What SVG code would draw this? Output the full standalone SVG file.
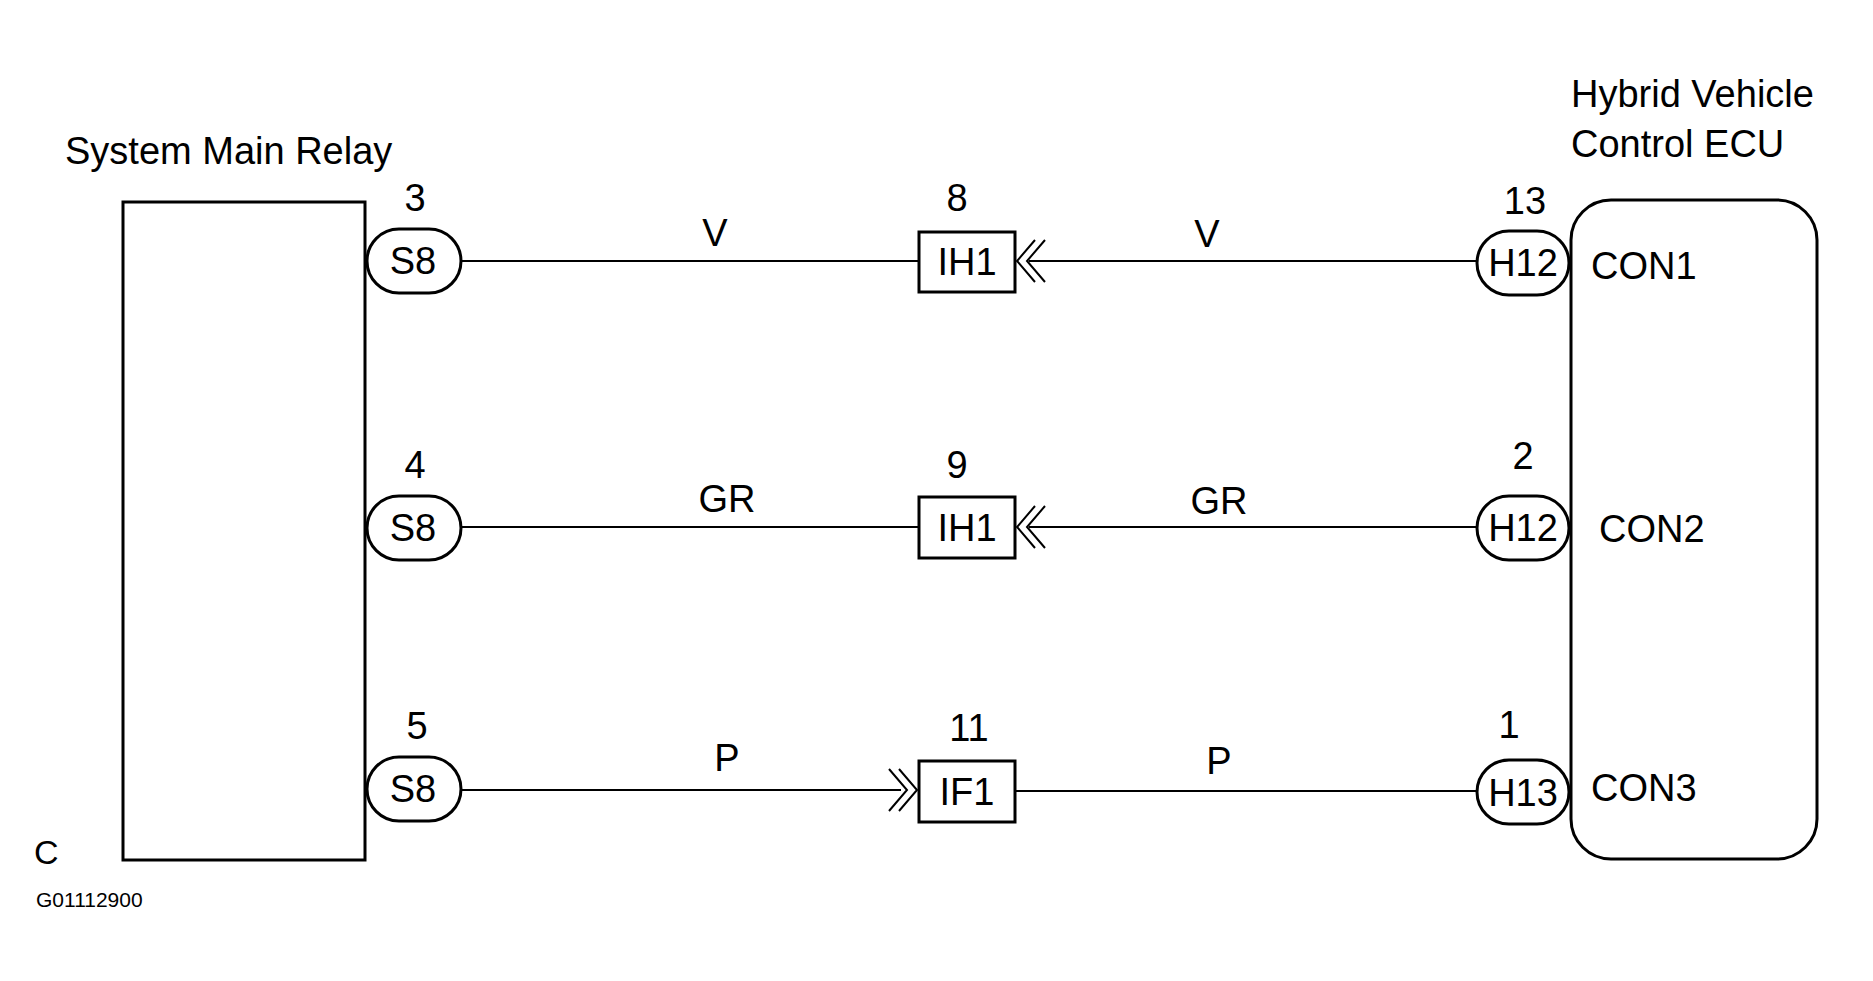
<svg xmlns="http://www.w3.org/2000/svg" width="1873" height="981" viewBox="0 0 1873 981">
<style>
text{font-family:"Liberation Sans",Arial,sans-serif;fill:#000;font-size:38px}
.c{text-anchor:middle}
.s{stroke:#000;fill:none;stroke-width:3}
.w{stroke:#000;fill:none;stroke-width:2}
</style>
<rect width="1873" height="981" fill="#fff"/>
<g transform="translate(-5,0)">
<g id="relay"><rect class="s" x="128" y="202" width="242" height="658"/>
<text x="70" y="164">System Main Relay</text></g>
<g id="ecu"><rect class="s" x="1576" y="200" width="246" height="659" rx="40"/>
<text x="1576" y="107">Hybrid Vehicle</text><text x="1576" y="157">Control ECU</text>
<text x="1596" y="279">CON1</text><text x="1604" y="542">CON2</text><text x="1596" y="801">CON3</text></g>
<g id="s8a"><rect class="s" x="372" y="229" width="94" height="64" rx="32"/><text class="c" x="418" y="274">S8</text><text class="c" x="420" y="211">3</text></g>
<g id="s8b"><rect class="s" x="372" y="496" width="94" height="64" rx="32"/><text class="c" x="418" y="541">S8</text><text class="c" x="420" y="478">4</text></g>
<g id="s8c"><rect class="s" x="372" y="757" width="94" height="64" rx="32"/><text class="c" x="418" y="802">S8</text><text class="c" x="422" y="739">5</text></g>
<g id="ih1a"><rect class="s" x="924" y="232" width="96" height="60"/><text class="c" x="972" y="275">IH1</text><text class="c" x="962" y="211">8</text></g>
<g id="ih1b"><rect class="s" x="924" y="497" width="96" height="61"/><text class="c" x="972" y="541">IH1</text><text class="c" x="962" y="478">9</text></g>
<g id="if1"><rect class="s" x="924" y="761" width="96" height="61"/><text class="c" x="972" y="805">IF1</text><text class="c" x="974" y="741">11</text></g>
<g id="h12a"><rect class="s" x="1482" y="231" width="92" height="64" rx="32"/><text class="c" x="1528" y="276">H12</text><text class="c" x="1530" y="214">13</text></g>
<g id="h12b"><rect class="s" x="1482" y="496" width="92" height="64" rx="32"/><text class="c" x="1528" y="541">H12</text><text class="c" x="1528" y="469">2</text></g>
<g id="h13"><rect class="s" x="1482" y="760" width="92" height="64" rx="32"/><text class="c" x="1528" y="806">H13</text><text class="c" x="1514" y="738">1</text></g>
<g id="connectors">
<path class="w" d="M466 261H924M1034 261H1482M466 527H924M1034 527H1482M466 790H906M1020 791H1482"/>
<path class="w" d="M1040 240L1022 261L1040 282M1050 240L1032 261L1050 282"/>
<path class="w" d="M1040 506L1022 527L1040 548M1050 506L1032 527L1050 548"/>
<path class="w" d="M904 769L922 790L904 811M894 769L912 790L894 811"/>
<text class="c" x="720" y="246">V</text><text class="c" x="1212" y="247">V</text>
<text class="c" x="732" y="512">GR</text><text class="c" x="1224" y="514">GR</text>
<text class="c" x="732" y="771">P</text><text class="c" x="1224" y="774">P</text>
</g>
</g>
<text x="34" y="864" style="font-size:34px">C</text>
<text x="36" y="907" style="font-size:21px">G01112900</text>
</svg>
